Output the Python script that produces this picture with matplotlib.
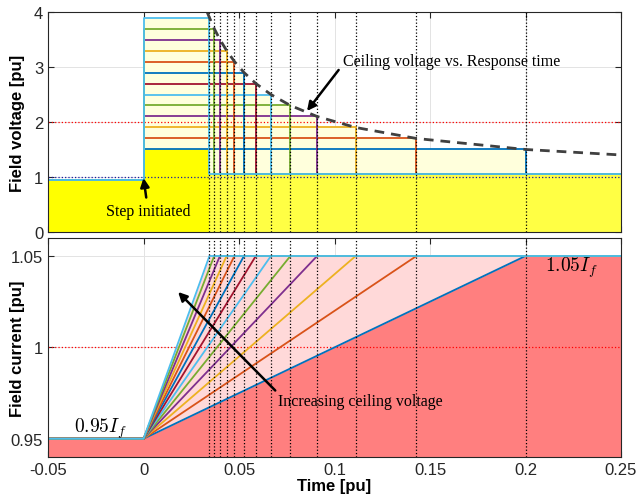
import numpy as np
import matplotlib
matplotlib.use("Agg")
import matplotlib.pyplot as plt

plt.rcParams['font.family'] = ['Liberation Sans', 'DejaVu Sans']
plt.rcParams['mathtext.fontset'] = 'cm'

# ceiling voltages (pu) and the matching response times
ceiling_v = [1.5, 1.7, 1.9, 2.1, 2.3, 2.5, 2.7, 2.9, 3.1, 3.3, 3.5, 3.7, 3.9]
response_t = [0.2, 0.1429, 0.1111, 0.0909, 0.0769, 0.0667, 0.0588,
              0.0526, 0.0476, 0.0435, 0.04, 0.037, 0.0345]

# ceiling voltage vs. response time curve (dashed)
curve_t = [0.0333, 0.0345, 0.037, 0.04, 0.0435, 0.0476, 0.0526, 0.0588,
           0.0667, 0.0769, 0.0909, 0.1111, 0.1429, 0.2, 0.25]
curve_v = [4.0, 3.9, 3.7, 3.5, 3.3, 3.1, 2.9, 2.7, 2.5, 2.3, 2.1, 1.9,
           1.7, 1.5, 1.4]

v_init, v_final = 0.95, 1.05   # field voltage before / after
i_init, i_final = 0.95, 1.05   # field current before / after
t_start, t_end = -0.05, 0.25

colors = ['#0072BD', '#D95319', '#EDB120', '#7E2F8E', '#77AC30', '#4DBEEE', '#A2142F']

fig = plt.figure(figsize=(6.37, 5.02), dpi=100)
ax1 = fig.add_axes([0.0754, 0.536, 0.8995, 0.438])
ax2 = fig.add_axes([0.0754, 0.0876, 0.8995, 0.4369])

# ---------------- top: field voltage ----------------
t_min, t_max = min(response_t), max(response_t)
v_lo, v_hi = min(ceiling_v), max(ceiling_v)

# light top envelope (staircase)
up_t, up_v = [0, 0], [0, v_hi]
for t, v in sorted(zip(response_t, ceiling_v)):
    up_t += [t]
    up_v += [v]
    nxt = [vv for tt, vv in zip(response_t, ceiling_v) if tt > t]
    up_t += [t]
    up_v += [max(nxt) if nxt else v_final]
up_t += [t_end]
up_v += [v_final]
ax1.fill_between(up_t, 0, up_v, color='#FFFFDC', lw=0, zorder=1)

# bright lower envelope
ax1.fill_between([t_start, 0, 0, t_min], 0, [v_init, v_init, v_lo, v_lo],
                 color='#FFFF00', lw=0, zorder=1)
ax1.fill_between([t_min, t_end], 0, [v_final, v_final],
                 color='#FFFF44', lw=0, zorder=1)

for k, (v, t) in enumerate(zip(ceiling_v, response_t)):
    ax1.plot([t_start, 0, 0, t, t, t_end], [v_init, v_init, v, v, v_final, v_final],
             color=colors[k % len(colors)], lw=1.3, zorder=3)
    ax1.axvline(t, color='k', ls=':', lw=0.9, zorder=4)
    ax2.axvline(t, color='k', ls=':', lw=0.9, zorder=4)

ax1.plot(curve_t, curve_v, color='#404040', ls=(0, (3.5, 2.5)), lw=2, zorder=5)
ax1.axhline(2, color='red', ls=':', lw=0.9, zorder=2)
ax1.axhline(1, color='#1a1aa0', ls=':', lw=0.9, zorder=2)

ax1.annotate('Step initiated', xy=(0, 0.98), xytext=(0.0024, 0.38),
             ha='center', va='center', fontsize=11.5, family='Liberation Serif',
             arrowprops=dict(arrowstyle='-|>', color='k', lw=1.8,
                             mutation_scale=13, shrinkA=2, shrinkB=0))
ax1.annotate('Ceiling voltage vs. Response time', xy=(0.0856, 2.2),
             xytext=(0.1045, 3.11), ha='left', va='center', fontsize=11.5,
             family='Liberation Serif',
             arrowprops=dict(arrowstyle='-|>', color='k', lw=1.8,
                             mutation_scale=13, shrinkA=2, shrinkB=0,
                             relpos=(0, 0.3)))

ax1.set_ylim(0, 4)
ax1.set_yticks([0, 1, 2, 3, 4])
ax1.set_ylabel('Field voltage [pu]', fontsize=12, fontweight='bold')

# ---------------- bottom: field current ----------------
slow_t = [t_start, 0, t_max, t_end]
slow_i = [i_init, i_init, i_final, i_final]
fast_t = [t_start, 0, t_min, t_end]
fast_i = [i_init, i_init, i_final, i_final]
ax2.fill_between(fast_t, 0.9, fast_i, color='#FFD9D9', lw=0, zorder=1)
ax2.fill_between(slow_t, 0.9, slow_i, color='#FF7F7F', lw=0, zorder=1)

for k, t in enumerate(response_t):
    ax2.plot([t_start, 0, t, t_end], [i_init, i_init, i_final, i_final],
             color=colors[k % len(colors)], lw=1.3, zorder=3)

ax2.axhline(1, color='red', ls=':', lw=0.9, zorder=2)

ax2.text(-0.0228, 0.9558, r'$0.95I_f$', ha='center', va='center', fontsize=14)
ax2.text(0.2102, 1.0439, r'$1.05I_f$', ha='left', va='center', fontsize=14)
ax2.annotate('Increasing ceiling voltage', xy=(0.0181, 1.0303),
             xytext=(0.0704, 0.9705), ha='left', va='center', fontsize=11.5,
             family='Liberation Serif',
             arrowprops=dict(arrowstyle='-|>', color='k', lw=1.8,
                             mutation_scale=13, shrinkA=0, shrinkB=0,
                             relpos=(0, 1.0)))

ax2.set_ylim(0.94, 1.06)
ax2.set_yticks([0.95, 1, 1.05])
ax2.set_yticklabels(['0.95', '1', '1.05'])
ax2.set_ylabel('Field current [pu]', fontsize=12, fontweight='bold')
ax2.set_xlabel('Time [pu]', fontsize=12, fontweight='bold', labelpad=1)

xt = [-0.05, 0, 0.05, 0.1, 0.15, 0.2, 0.25]
for ax in (ax1, ax2):
    ax.set_xlim(t_start, t_end)
    ax.set_xticks(xt)
    ax.grid(True, color='#E3E3E3', lw=0.7)
    ax.set_axisbelow(True)
    ax.tick_params(direction='in', top=True, right=True, length=4,
                   labelsize=12, color='#262626', labelcolor='#262626')
    ax.yaxis.set_label_coords(-0.04, 0.5)
    for s in ax.spines.values():
        s.set_color('#262626')
        s.set_linewidth(0.8)
        s.set_zorder(6)
ax1.set_xticklabels([])
ax2.set_xticklabels(['-0.05', '0', '0.05', '0.1', '0.15', '0.2', '0.25'])

fig.savefig('out.png', dpi=100)
